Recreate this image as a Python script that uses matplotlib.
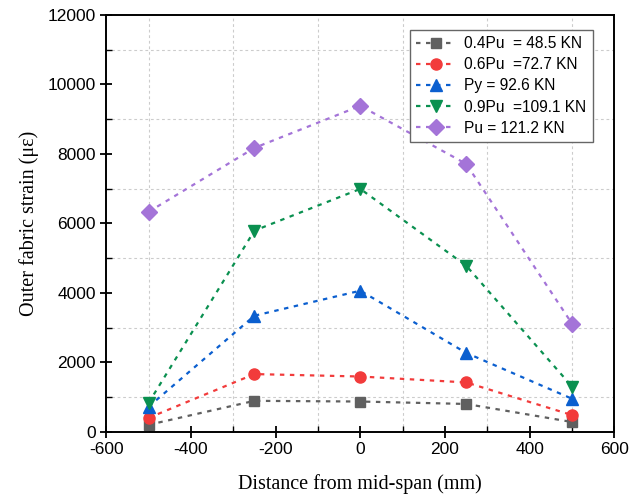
import matplotlib.pyplot as plt
from matplotlib.ticker import MultipleLocator

# distance from mid-span (mm)
dist = [-500, -250, 0, 250, 500]

# outer fabric strain (micro-strain) for each load level
s_04pu = [200, 890, 870, 800, 280]
s_06pu = [400, 1660, 1590, 1420, 480]
s_py = [720, 3340, 4060, 2270, 950]
s_09pu = [830, 5790, 6990, 4780, 1300]
s_pu = [6330, 8170, 9380, 7710, 3110]

labels = ['0.4Pu  = 48.5 KN', '0.6Pu  =72.7 KN', 'Py = 92.6 KN',
          '0.9Pu  =109.1 KN', 'Pu = 121.2 KN']

plt.rcParams['font.family'] = ['Liberation Sans', 'DejaVu Sans']
plt.rcParams['axes.unicode_minus'] = False

fig = plt.figure(figsize=(6.4, 4.94), dpi=100)
ax = fig.add_axes([0.166, 0.126, 0.794, 0.844])

series = [s_04pu, s_06pu, s_py, s_09pu, s_pu]
colors = ['#606060', '#f23b3b', '#0b5fcf', '#0a9050', '#a474d8']
markers = ['s', 'o', '^', 'v', 'D']
sizes = [7, 8, 9, 9, 8]
for ys, c, m, ms, lab in zip(series, colors, markers, sizes, labels):
    ax.plot(dist, ys, color=c, marker=m, markersize=ms, linestyle=(0, (2, 2.5)),
            linewidth=1.6, label=lab)

ax.set_xlim(-600, 600)
ax.set_ylim(0, 12000)
ax.xaxis.set_major_locator(MultipleLocator(200))
ax.xaxis.set_minor_locator(MultipleLocator(100))
ax.yaxis.set_major_locator(MultipleLocator(2000))
ax.yaxis.set_minor_locator(MultipleLocator(1000))

# grid only on the minor (odd) positions
ax.grid(which='minor', color='#cccccc', linestyle=(0, (2.5, 2.5)), linewidth=0.8)
ax.grid(which='major', visible=False)

ax.tick_params(which='major', direction='inout', length=8, width=1.3, labelsize=12.5)
ax.tick_params(which='minor', direction='in', length=4, width=1.0)
for sp in ax.spines.values():
    sp.set_linewidth(1.4)

ax.set_xlabel('Distance from mid-span (mm)', family='Liberation Serif', fontsize=14.5,
              labelpad=12)
ax.set_ylabel('Outer fabric strain (\u03bc\u03b5)', family='Liberation Serif', fontsize=14.5,
              labelpad=6)

leg = ax.legend(loc='upper right', bbox_to_anchor=(0.957, 0.964), borderaxespad=0,
                fontsize=11.2, fancybox=False, edgecolor='#666666', framealpha=1,
                handlelength=2.6, handletextpad=0.5, borderpad=0.4, labelspacing=0.4)
leg.get_frame().set_linewidth(1.0)

fig.savefig('out.png', dpi=100)
